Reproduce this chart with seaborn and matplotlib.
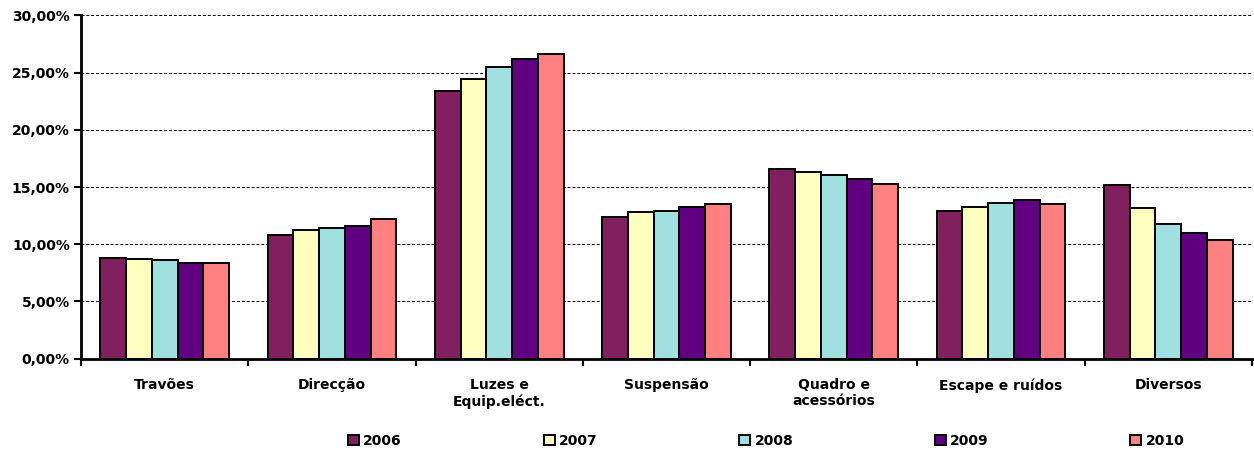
import matplotlib
matplotlib.use("Agg")
from matplotlib import pyplot as plt
from matplotlib.ticker import FuncFormatter, FixedLocator
import pandas as pd
import seaborn as sns

# Dados (percentagens)
categorias = ["Travões", "Direcção", "Luzes e\nEquip.eléct.", "Suspensão",
              "Quadro e\nacessórios", "Escape e ruídos", "Diversos"]
anos = ["2006", "2007", "2008", "2009", "2010"]
v2006 = [8.78, 10.79, 23.40, 12.39, 16.58, 12.94, 15.16]
v2007 = [8.69, 11.22, 24.45, 12.80, 16.35, 13.26, 13.15]
v2008 = [8.63, 11.42, 25.50, 12.94, 16.06, 13.61, 11.80]
v2009 = [8.34, 11.63, 26.17, 13.26, 15.68, 13.85, 10.96]
v2010 = [8.37, 12.24, 26.61, 13.55, 15.27, 13.52, 10.40]
cores = ["#80205F", "#FFFFC0", "#A0E0E0", "#600080", "#FF8080"]

series = [v2006, v2007, v2008, v2009, v2010]
rows = []
for ano, vals in zip(anos, series):
    for cat, v in zip(categorias, vals):
        rows.append({"categoria": cat, "ano": ano, "valor": v})
df = pd.DataFrame(rows)

sns.set_style("white")
plt.rcParams["font.family"] = ["DejaVu Sans"]
plt.rcParams["font.weight"] = "bold"
plt.rcParams["text.color"] = "black"
plt.rcParams["xtick.color"] = "black"
plt.rcParams["ytick.color"] = "black"
plt.rcParams["xtick.labelcolor"] = "black"
plt.rcParams["ytick.labelcolor"] = "black"

fig = plt.figure(figsize=(12.54, 4.55), dpi=100)
ax = fig.add_axes([0.0646, 0.2116, 0.9338, 0.7548])

sns.barplot(data=df, x="categoria", y="valor", hue="ano", palette=cores,
            width=0.77, gap=0, edgecolor="black", linewidth=1.4,
            saturation=1, ax=ax)

ax.set_xlim(-0.5, 6.5)
ax.set_ylim(0, 30)
ax.set_yticks(range(0, 31, 5))
ax.yaxis.set_major_formatter(FuncFormatter(
    lambda v, p: f"{v:.2f}%".replace(".", ",")))
ax.grid(axis="y", color="black", linestyle=(0, (3, 2)), linewidth=0.7)
ax.set_axisbelow(True)

# marcas do eixo x nas fronteiras (estilo Excel)
ax.xaxis.set_minor_locator(FixedLocator([i - 0.5 for i in range(8)]))
ax.tick_params(axis="x", which="major", length=0, pad=14, labelsize=10,
               labelcolor="black")
ax.tick_params(axis="x", which="minor", length=5, width=1.5,
               direction="out", color="black", bottom=True)
ax.tick_params(axis="y", length=5, width=1.5, direction="out",
               color="black", left=True, labelsize=10, pad=3,
               labelcolor="black")
for lab in ax.get_xticklabels() + ax.get_yticklabels():
    lab.set_fontweight("bold")

for s in ["top", "right"]:
    ax.spines[s].set_visible(False)
for s in ["left", "bottom"]:
    ax.spines[s].set_color("black")
    ax.spines[s].set_linewidth(2)

ax.set_xlabel(None)
ax.set_ylabel(None)

handles, labels = ax.get_legend_handles_labels()
ax.get_legend().remove()
fig.legend(handles, labels, loc="center", bbox_to_anchor=(0.611, 0.031),
           ncol=5, frameon=False, handlelength=0.8, handleheight=0.8,
           handletextpad=0.3, columnspacing=10.2,
           prop={"weight": "bold", "size": 10}, labelcolor="black")

fig.savefig("out.png", dpi=100)
